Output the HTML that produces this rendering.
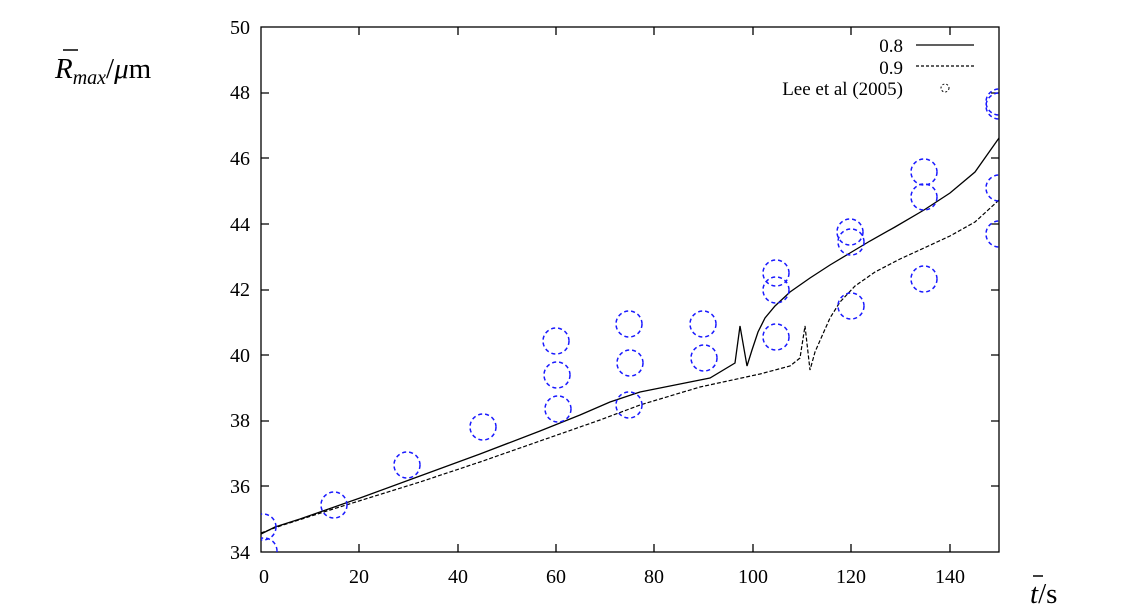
<!DOCTYPE html><html><head><style>body{margin:0;background:#fff}svg{display:block}text{font-family:"Liberation Serif",serif}</style></head><body>
<svg width="1123" height="615" xmlns="http://www.w3.org/2000/svg">
<defs><clipPath id="c"><rect x="261" y="27" width="738" height="525"/></clipPath></defs>
<g font-size="20" fill="#000" text-anchor="end">
<text x="250" y="34">50</text><text x="250" y="99">48</text><text x="250" y="165">46</text><text x="250" y="231">44</text><text x="250" y="296">42</text><text x="250" y="362">40</text><text x="250" y="427">38</text><text x="250" y="493">36</text><text x="250" y="559">34</text>
</g>
<g font-size="20" text-anchor="middle">
<text x="264" y="583">0</text><text x="359" y="583">20</text><text x="458" y="583">40</text><text x="556" y="583">60</text><text x="654" y="583">80</text><text x="753" y="583">100</text><text x="851" y="583">120</text><text x="950" y="583">140</text>
</g>
<g stroke="#000" stroke-width="1.3" fill="none">
<rect x="261" y="27" width="738" height="525"/>
<path d="M359,552v-8M458,552v-8M556,552v-8M654,552v-8M753,552v-8M851,552v-8M950,552v-8M359,27v8M458,27v8M556,27v8M654,27v8M753,27v8M851,27v8M950,27v8"/>
<path d="M261,93h8M261,158h8M261,224h8M261,290h8M261,355h8M261,421h8M261,486h8M999,93h-8M999,158h-8M999,224h-8M999,290h-8M999,355h-8M999,421h-8M999,486h-8"/>
</g>
<g font-size="19" text-anchor="end"><text x="903" y="52">0.8</text><text x="903" y="74">0.9</text><text x="903" y="95">Lee et al (2005)</text></g>
<path d="M916,45h58" stroke="#000" stroke-width="1.2"/>
<path d="M916,66h58" stroke="#000" stroke-width="1.2" stroke-dasharray="3,2"/>
<circle cx="945" cy="88" r="4" fill="none" stroke="#000" stroke-dasharray="2,2"/>
<g clip-path="url(#c)" fill="none">
<path d="M261,534 L275,527 L300,519 L360,498 L420,476 L480,454 L540,431 L580,415 L610,402 L640,392 L680,384 L710,378 L735,363 L740,326 L747,366 L752,350 L758,332 L765,318 L775,306 L790,292 L810,278 L830,265 L850,253 L870,241 L895,227 L924,210 L950,193 L975,172 L999,138" stroke="#000" stroke-width="1.3"/>
<path d="M261,533 L280,526 L330,510 L420,482 L480,462 L540,441 L600,420 L640,405 L700,387 L760,374 L790,366 L800,358 L805,326 L810,370 L815,352 L822,336 L830,318 L840,302 L855,286 L875,272 L900,259 L924,248 L950,236 L975,222 L999,200" stroke="#000" stroke-width="1.2" stroke-dasharray="4,2"/>
<g stroke="#1a1aff" stroke-width="1.5" stroke-dasharray="4,3">
<circle cx="263" cy="527" r="13"/><circle cx="264" cy="551" r="13"/><circle cx="334" cy="505" r="13"/><circle cx="407" cy="465" r="13"/><circle cx="483" cy="427" r="13"/><circle cx="556" cy="341" r="13"/><circle cx="557" cy="375" r="13"/><circle cx="558" cy="409" r="13"/><circle cx="629" cy="324" r="13"/><circle cx="630" cy="363" r="13"/><circle cx="629" cy="405" r="13"/><circle cx="703" cy="324" r="13"/><circle cx="704" cy="358" r="13"/><circle cx="776" cy="273" r="13"/><circle cx="776" cy="290" r="13"/><circle cx="776" cy="337" r="13"/><circle cx="850" cy="232" r="13"/><circle cx="851" cy="242" r="13"/><circle cx="851" cy="306" r="13"/><circle cx="924" cy="172" r="13"/><circle cx="924" cy="197" r="13"/><circle cx="924" cy="279" r="13"/><circle cx="999" cy="102" r="13"/><circle cx="999" cy="106" r="13"/><circle cx="999" cy="188" r="13"/><circle cx="999" cy="234" r="13"/>
</g></g>
<text x="55" y="78" font-size="29"><tspan font-style="italic">R</tspan><tspan font-size="20" font-style="italic" dy="6">max</tspan><tspan dy="-6">/</tspan><tspan font-style="italic">μ</tspan>m</text>
<path d="M63,50h15" stroke="#000" stroke-width="1.5"/>
<text x="1030" y="603" font-size="29"><tspan font-style="italic">t</tspan>/s</text>
<path d="M1033,576h10" stroke="#000" stroke-width="1.5"/>
</svg></body></html>
